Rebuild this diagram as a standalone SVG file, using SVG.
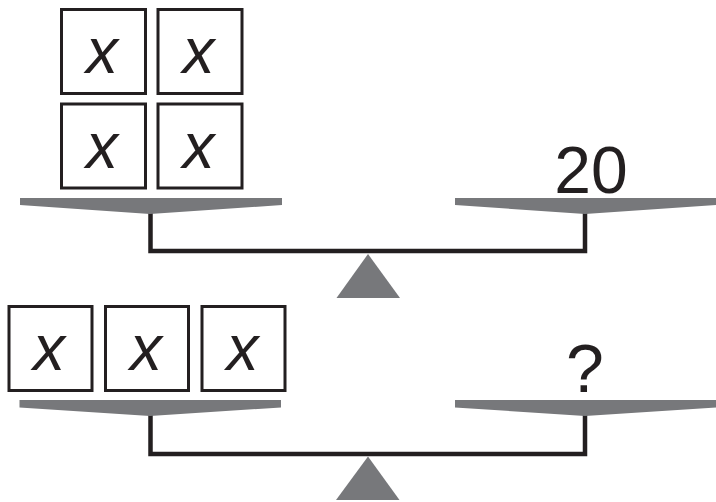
<svg xmlns="http://www.w3.org/2000/svg" width="716" height="502" viewBox="0 0 716 502">
<style>
.box{fill:#fff;stroke:#231f20;stroke-width:3}
.x{font-family:"Liberation Sans",Arial,sans-serif;font-style:italic;font-size:64px;fill:#231f20;text-anchor:middle}
.num{font-family:"Liberation Sans",Arial,sans-serif;font-size:66px;fill:#231f20;text-anchor:middle}
.pan{fill:#77787b}
.beam{fill:none;stroke:#231f20;stroke-width:4.5;stroke-linejoin:miter}
</style>
<rect width="716" height="502" fill="#fff"/>
<g id="connectors">
<polyline class="beam" points="150.5,212 150.5,251 585,251 585,212"/>
<polyline class="beam" points="150.5,414 150.5,454 585,454 585,414"/>
</g>
<g id="top-box-1"><rect class="box" x="61.5" y="9.5" width="84" height="84"/><text class="x" x="102" y="73">x</text></g>
<g id="top-box-2"><rect class="box" x="158" y="9.5" width="84" height="84"/><text class="x" x="198.5" y="73">x</text></g>
<g id="top-box-3"><rect class="box" x="61.5" y="104" width="84" height="84"/><text class="x" x="102" y="167.5">x</text></g>
<g id="top-box-4"><rect class="box" x="158" y="104" width="84" height="84"/><text class="x" x="198.5" y="167.5">x</text></g>
<g id="top-left-pan"><polygon class="pan" points="20,198 282,198 282,205 150,214 20,205"/></g>
<g id="top-right-pan"><polygon class="pan" points="455,198 716,198 716,205 585,214 455,205"/></g>
<g id="top-label"><text class="num" x="591" y="193">20</text></g>
<g id="top-fulcrum"><polygon class="pan" points="368,254 336.5,298 400,298"/></g>
<g id="bottom-box-1"><rect class="box" x="9" y="306.5" width="83" height="84"/><text class="x" x="49" y="370">x</text></g>
<g id="bottom-box-2"><rect class="box" x="105.5" y="306.5" width="83" height="84"/><text class="x" x="146" y="370">x</text></g>
<g id="bottom-box-3"><rect class="box" x="202" y="306.5" width="83" height="84"/><text class="x" x="242.5" y="370">x</text></g>
<g id="bottom-left-pan"><polygon class="pan" points="19.5,400 281,400 281,407.5 150,416 19.5,407.5"/></g>
<g id="bottom-right-pan"><polygon class="pan" points="455,400 716,400 716,407.5 585,416 455,407.5"/></g>
<g id="bottom-label"><text class="num" x="585" y="391.5" style="font-size:68px">?</text></g>
<g id="bottom-fulcrum"><polygon class="pan" points="368,456.5 336,500 399.5,500"/></g>
</svg>
